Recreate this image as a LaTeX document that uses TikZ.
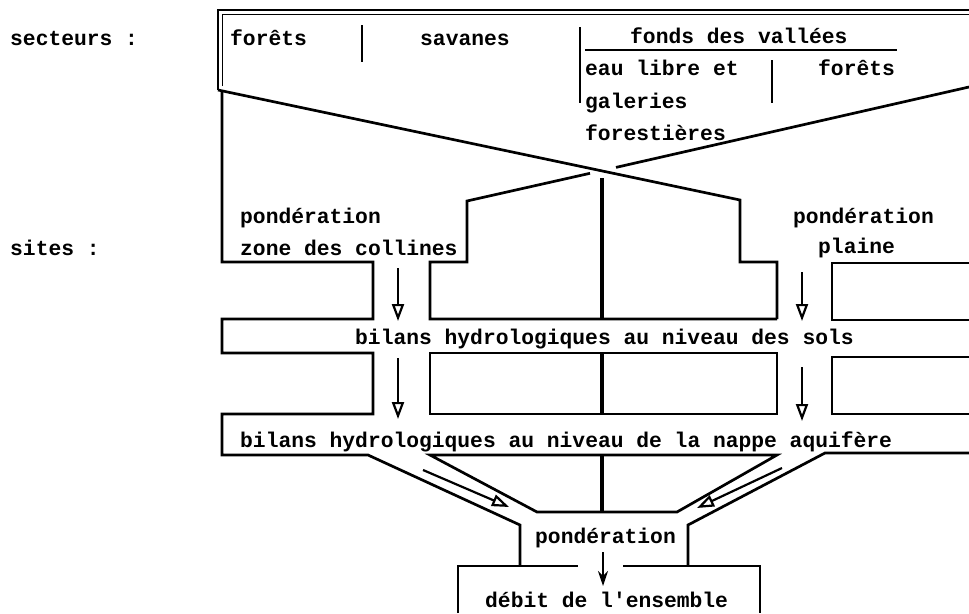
\documentclass[tikz,border=0pt]{standalone}
\usepackage{fontspec}
\setmainfont{Liberation Mono}
\usetikzlibrary{arrows.meta}
\begin{document}
\begin{tikzpicture}[x=1pt,y=-1pt,
  wall/.style={line width=2.7pt, line join=miter},
  midline/.style={line width=3.8pt},
  txt/.style={anchor=base west, inner sep=0pt, font=\fontsize{21.3}{30}\selectfont\bfseries},
  flow/.style={line width=2.2pt, -{Triangle[open, length=17pt, width=12pt, line width=2.2pt]}},
  flowb/.style={line width=2.2pt, -{Stealth[length=15pt, width=10pt]}}]
\useasboundingbox (0,0) rectangle (969,613);

% labels on the left
\node[txt] (lsect) at (10,45) {secteurs :};
\node[txt] (lsite) at (10,255) {sites :};

% top frame (double line)
\draw[wall] (218,90) -- (218,10) -- (969,10);
\draw[line width=1.6pt] (222.5,86) -- (222.5,14.5) -- (969,14.5);

% secteurs texts and separators
\node[txt] (t1) at (230,45) {forêts};
\node[txt] (t2) at (420,45) {savanes};
\node[txt] (t3) at (630,43) {fonds des vallées};
\node[txt] (t4) at (585,75) {eau libre et};
\node[txt] (t5) at (585,108) {galeries};
\node[txt] (t6) at (585,140) {forestières};
\node[txt] (t7) at (818,75) {forêts};
\draw[wall] (362,25) -- (362,62);
\draw[wall] (580,27) -- (580,103);
\draw[wall] (585,50) -- (897,50);
\draw[wall] (772,60) -- (772,103);

% the two crossing lines
\draw[wall] (218,90) -- (740,200) -- (740,262) -- (777,262) -- (777,319);
\draw[wall] (969,87) -- (616,167.4);
\draw[wall] (590,173.3) -- (467,201) -- (467,262) -- (430,262) -- (430,319) -- (777,319);
\draw[midline] (602,178) -- (602,319);

% left column
\draw[wall] (222,90) -- (222,262) -- (373,262) -- (373,319) -- (222,319) -- (222,353) -- (373,353) -- (373,414) -- (222,414) -- (222,455) -- (368,455) -- (520,525) -- (520,566);

% right column
\draw[wall] (969,263) -- (832,263) -- (832,320) -- (969,320);
\draw[wall] (969,357) -- (832,357) -- (832,414) -- (969,414);
\draw[wall] (969,453) -- (825,453) -- (688,525) -- (688,566);

% middle blocks
\draw[wall] (430,353) rectangle (777,414);
\draw[midline] (602,353) -- (602,414);
\draw[wall] (430,455) -- (537,512) -- (677,512) -- (777,455) -- cycle;
\draw[midline] (602,455) -- (602,512);

% débit box
\draw[wall] (458,613) -- (458,566) -- (578,566);
\draw[wall] (623,566) -- (760,566) -- (760,613);

% site texts
\node[txt] (p1) at (240,223) {pondération};
\node[txt] (p2) at (240,255) {zone des collines};
\node[txt] (p3) at (793,223) {pondération};
\node[txt] (p4) at (818,253) {plaine};
\node[txt] (b1) at (355,344) {bilans hydrologiques au niveau des sols};
\node[txt] (b2) at (240,447) {bilans hydrologiques au niveau de la nappe aquifère};
\node[txt] (p5) at (535,543) {pondération};
\node[txt] (d1) at (485,607) {débit de l\textquotesingle ensemble};

% arrows
\coordinate (a1s) at (398,268); \coordinate (a1e) at (398,321);
\coordinate (a2s) at (398,358); \coordinate (a2e) at (398,419);
\coordinate (a3s) at (802,272); \coordinate (a3e) at (802,321);
\coordinate (a4s) at (802,367); \coordinate (a4e) at (802,421);
\coordinate (a5s) at (423,470); \coordinate (a5e) at (509,507);
\coordinate (a6s) at (782,468); \coordinate (a6e) at (697,508);
\coordinate (a7s) at (603,552); \coordinate (a7e) at (603,586);
\draw[flow] (a1s) -- (a1e);
\draw[flow] (a2s) -- (a2e);
\draw[flow] (a3s) -- (a3e);
\draw[flow] (a4s) -- (a4e);
\draw[flow] (a5s) -- (a5e);
\draw[flow] (a6s) -- (a6e);
\draw[flowb] (a7s) -- (a7e);
\end{tikzpicture}
\end{document}
